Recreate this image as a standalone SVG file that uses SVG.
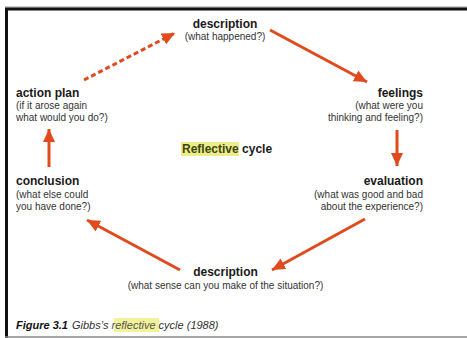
<svg xmlns="http://www.w3.org/2000/svg" width="467" height="338" viewBox="0 0 467 338">
<style>
text{font-family:"Liberation Sans",Arial,sans-serif;fill:#1a1a1a}
.t{font-size:12px;font-weight:bold}
.s{font-size:10px;fill:#333}
.r{text-anchor:end}
.m{text-anchor:middle}
.a{stroke:#e04a1c;stroke-width:3;fill:none;marker-end:url(#ah)}
.d{stroke-dasharray:5 3}
</style>
<defs>
<marker id="ah" markerUnits="userSpaceOnUse" markerWidth="16" markerHeight="14" refX="13" refY="6" orient="auto">
<path d="M0,0 L13,6 L0,12 Z" fill="#e04a1c"/>
</marker>
</defs>
<rect x="0" y="0" width="467" height="338" fill="#fff"/>
<line x1="5" y1="7" x2="467" y2="7" stroke="#999" stroke-width="1"/>
<line x1="5" y1="9" x2="467" y2="9" stroke="#111" stroke-width="3"/>
<line x1="6.5" y1="8" x2="6.5" y2="338" stroke="#111" stroke-width="3"/>
<line x1="5" y1="337" x2="467" y2="337" stroke="#888" stroke-width="1.5"/>

<g id="description-top">
<text class="t m" x="225" y="28">description</text>
<text class="s m" x="225" y="40">(what happened?)</text>
</g>
<g id="feelings">
<text class="t r" x="423" y="97">feelings</text>
<text class="s r" x="423" y="109">(what were you</text>
<text class="s r" x="423" y="121">thinking and feeling?)</text>
</g>
<g id="evaluation">
<text class="t r" x="423" y="185">evaluation</text>
<text class="s r" x="423" y="198">(what was good and bad</text>
<text class="s r" x="423" y="210">about the experience?)</text>
</g>
<g id="description-bottom">
<text class="t m" x="225.5" y="276">description</text>
<text class="s m" x="225.5" y="289">(what sense can you make of the situation?)</text>
</g>
<g id="conclusion">
<text class="t" x="16" y="185">conclusion</text>
<text class="s" x="16" y="198">(what else could</text>
<text class="s" x="16" y="210">you have done?)</text>
</g>
<g id="action-plan">
<text class="t" x="16" y="97">action plan</text>
<text class="s" x="16" y="109">(if it arose again</text>
<text class="s" x="16" y="121">what would you do?)</text>
</g>
<g id="title">
<rect x="181" y="142" width="58" height="14" fill="#ecec8a"/>
<text class="t" x="182" y="153"><tspan fill="#3d4510">Reflective</tspan> cycle</text>
</g>
<g id="connectors">
<line class="a d" x1="84" y1="80" x2="175" y2="33"/>
<line class="a" x1="270" y1="30" x2="367" y2="82"/>
<line class="a" x1="397" y1="130" x2="397" y2="166"/>
<line class="a" x1="365" y1="219" x2="272" y2="270"/>
<line class="a" x1="180" y1="270" x2="87" y2="220"/>
<line class="a" x1="49" y1="167" x2="49" y2="129"/>
</g>
<g id="caption">
<rect x="114" y="318" width="45" height="14" fill="#f2f29a"/>
<text x="16" y="329" font-size="11" font-style="italic"><tspan font-weight="bold" fill="#111">Figure 3.1</tspan><tspan fill="#333" dx="4">Gibbs’s </tspan><tspan fill="#555">reflective</tspan><tspan fill="#333"> cycle (1988)</tspan></text>
</g>
</svg>
